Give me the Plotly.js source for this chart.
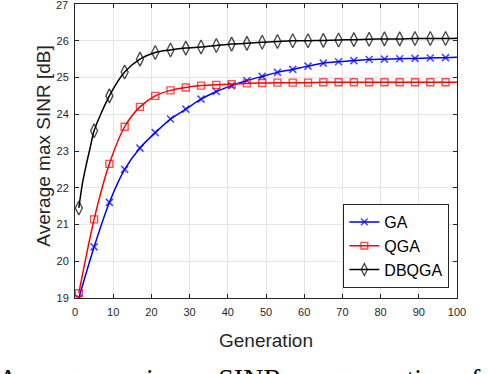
<!DOCTYPE html>
<html>
<head>
<meta charset="utf-8">
<script src="https://cdn.plot.ly/plotly-3.0.1.min.js"></script>
<style>
  html, body { margin: 0; padding: 0; background: #fff; }
  #myPlot { width: 488px; height: 374px; }
</style>
</head>
<body>
<div id="myPlot"></div>
<script>
// generations where the markers sit (every 4th), plus the last one
const gens = [1, 5, 9, 13, 17, 21, 25, 29, 33, 37, 41, 45, 49, 53, 57, 61, 65, 69, 73, 77, 81, 85, 89, 93, 97, 100];

const gaSinr = [19.0, 20.39, 21.6, 22.5, 23.08, 23.5, 23.87, 24.14, 24.41, 24.62, 24.78, 24.92, 25.03,
  25.14, 25.22, 25.31, 25.39, 25.43, 25.46, 25.49, 25.5, 25.51, 25.52, 25.53, 25.54, 25.55];

const qgaSinr = [19.13, 21.14, 22.65, 23.66, 24.2, 24.5, 24.65, 24.73, 24.78, 24.8, 24.82, 24.84, 24.85,
  24.86, 24.86, 24.86, 24.87, 24.87, 24.87, 24.87, 24.87, 24.87, 24.87, 24.87, 24.87, 24.87];

// DBQGA rises fast at the start, so a few extra points
const dbqgaGens = [1, 2, 3, 4, 5, 9, 13, 17, 21, 25, 29, 33, 37, 41, 45, 49, 53, 57, 61, 65, 69, 73, 77, 81, 85, 89, 93, 97, 100];
const dbqgaSinr = [21.45, 22.15, 22.65, 23.1, 23.55, 24.5, 25.15, 25.5, 25.68, 25.75, 25.8, 25.83, 25.87, 25.91,
  25.93, 25.96, 25.98, 26.0, 26.0, 26.01, 26.02, 26.03, 26.04, 26.05, 26.05, 26.06, 26.06, 26.06, 26.07];

const xTicks = [0, 10, 20, 30, 40, 50, 60, 70, 80, 90, 100];
const yTicks = [19, 20, 21, 22, 23, 24, 25, 26, 27];

const font = 'Liberation Sans, Arial, Helvetica, sans-serif';
const axisColor = '#262626';

// marker only on every 4th generation
function markerSizes(xs, size) {
  return xs.map(g => ((g - 1) % 4 === 0 && g < 100) ? size : 0);
}

const traceGA = {
  x: gens, y: gaSinr, name: 'GA',
  mode: 'lines+markers', line: { color: '#0000ff', width: 1.5, shape: 'spline', smoothing: 0.8 },
  marker: { symbol: 'x-thin-open', size: markerSizes(gens, 7), color: '#0000ff', line: { color: '#0000ff', width: 1.6 } }
};

const traceQGA = {
  x: gens, y: qgaSinr, name: 'QGA',
  mode: 'lines+markers', line: { color: '#ff0000', width: 1.5, shape: 'spline', smoothing: 0.8 },
  marker: { symbol: 'square-open', size: markerSizes(gens, 7), color: '#ff0000', line: { color: '#ff0000', width: 1.4 } }
};

const traceDBQGA = {
  x: dbqgaGens, y: dbqgaSinr, name: 'DBQGA',
  mode: 'lines+markers', line: { color: '#000000', width: 1.5, shape: 'spline', smoothing: 0.8 },
  marker: { symbol: 'diamond-tall-open', size: markerSizes(dbqgaGens, 10), color: '#000000', line: { color: '#000000', width: 1.4 } }
};

const axisCommon = {
  showline: true, linecolor: axisColor, linewidth: 1, mirror: 'ticks',
  ticks: 'inside', ticklen: 4, tickcolor: axisColor, tickwidth: 1,
  showgrid: true, gridcolor: '#e6e6e6', gridwidth: 1, zeroline: false,
  tickfont: { family: font, size: 11, color: axisColor }
};

const topY = yTicks[yTicks.length - 1];

const layout = {
  width: 488, height: 374,
  margin: { l: 75, r: 31, t: 4, b: 76 },
  paper_bgcolor: '#ffffff', plot_bgcolor: '#ffffff',
  showlegend: true,
  xaxis: Object.assign({}, axisCommon, {
    range: [0, 100], tickvals: xTicks, ticktext: xTicks.map(String), ticklabelstandoff: 4,
    title: { text: 'Generation', font: { family: font, size: 19, color: axisColor }, standoff: 16 }
  }),
  yaxis: Object.assign({}, axisCommon, {
    range: [18.9995, 27.0005], tickvals: yTicks, ticktext: yTicks.map(String), ticklabelstandoff: 3
  }),
  legend: {
    x: 0.98, y: 0.034, xanchor: 'right', yanchor: 'bottom',
    bgcolor: '#ffffff', bordercolor: axisColor, borderwidth: 1,
    font: { family: font, size: 16, color: '#000000' },
    tracegroupgap: 0
  },
  annotations: [
    {
      // top tick label, which plotly drops at the edge of the figure
      text: String(topY), xref: 'paper', yref: 'y', x: -0.016, y: topY, yshift: -1,
      xanchor: 'right', yanchor: 'middle', showarrow: false, borderpad: 0,
      font: { family: font, size: 11, color: axisColor }
    },
    {
      text: 'Average max SINR [dB]', xref: 'paper', yref: 'paper', x: -0.081, y: 0.515,
      xanchor: 'center', yanchor: 'middle', textangle: -90, showarrow: false,
      font: { family: font, size: 19, color: axisColor }
    },
    {
      text: 'Average maximum SINR per generation of',
      xref: 'paper', yref: 'paper', x: 0.43, y: -0.215, xanchor: 'center', yanchor: 'top',
      showarrow: false, font: { family: 'Liberation Serif, Times New Roman, serif', size: 28, color: '#000000' }
    }
  ]
};

Plotly.newPlot('myPlot', [traceGA, traceQGA, traceDBQGA], layout, { displayModeBar: false, staticPlot: true });
</script>
</body>
</html>
